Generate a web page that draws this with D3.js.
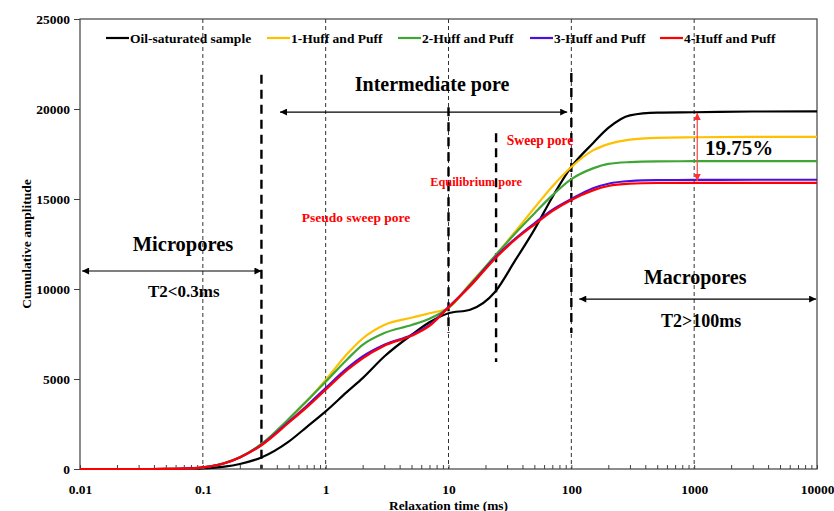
<!DOCTYPE html>
<html>
<head>
<meta charset="utf-8">
<script src="https://cdn.jsdelivr.net/npm/d3@7"></script>
<style>
  html, body { margin: 0; padding: 0; background: #fff; }
  svg { display: block; font-family: "Liberation Serif", "Times New Roman", serif; font-weight: bold; }
</style>
</head>
<body>
<svg id="chart" width="834" height="511"></svg>
<script>
/* ——— data ——————————————— */
const relaxTimes = [0.01, 0.03, 0.05, 0.07, 0.1, 0.15, 0.2, 0.3, 0.5, 0.7, 1, 1.5, 2, 3, 5, 7,
                    10, 15, 24, 35, 50, 70, 100, 150, 200, 300, 500, 1000, 3000, 10000];

const oilSaturated = [0, 0, 0, 5, 30, 130, 280, 640, 1520, 2330, 3200, 4300, 5050, 6250, 7450, 8150,
                      8650, 8850, 9850, 11600, 13300, 15100, 16780, 18100, 18950, 19650, 19800, 19820, 19860, 19870];
const huff1 = [0, 0, 3, 20, 90, 330, 650, 1380, 2750, 3750, 4950, 6400, 7250, 8000, 8400, 8650,
               8950, 10300, 11850, 13200, 14500, 15700, 16780, 17700, 18050, 18300, 18400, 18430, 18450, 18450];
const huff2 = [0, 0, 3, 20, 90, 330, 650, 1390, 2780, 3780, 4850, 6100, 6900, 7550, 8000, 8350,
               8950, 10250, 11850, 13100, 14200, 15200, 16100, 16700, 16950, 17050, 17090, 17100, 17100, 17100];
const huff3 = [0, 0, 3, 20, 90, 320, 640, 1340, 2620, 3500, 4500, 5600, 6250, 6900, 7450, 8000,
               9000, 10200, 11750, 12800, 13650, 14400, 15000, 15600, 15850, 16000, 16050, 16060, 16070, 16070];
const huff4 = [0, 0, 3, 20, 90, 320, 640, 1320, 2570, 3420, 4400, 5500, 6150, 6850, 7400, 7950,
               8970, 10150, 11700, 12750, 13580, 14330, 14950, 15480, 15720, 15850, 15890, 15900, 15900, 15900];

const seriesNames  = ["Oil-saturated sample", "1-Huff and Puff", "2-Huff and Puff", "3-Huff and Puff", "4-Huff and Puff"];
const seriesValues = [oilSaturated, huff1, huff2, huff3, huff4];
const seriesColors = ["#000000", "#ffc000", "#3fa535", "#4a10e0", "#ff0000"];

const xTickValues = [0.01, 0.1, 1, 10, 100, 1000, 10000];
const yTickValues = [0, 5000, 10000, 15000, 20000, 25000];
const gridTimes   = [0.1, 1, 10, 100, 1000];

// thick dashed separators: [time, from, to] in amplitude units
const separators = [[0.3, 0, 21900], [10, 7560, 20100], [24.4, 5940, 18650], [100, 7560, 22000]];

/* ——— layout ——————————————————————————————————————— */
const width = 834, height = 511;
const margin = {top: 19, right: 17, bottom: 42, left: 80};

const svg = d3.select("#chart");

const x = d3.scaleLog([0.01, 10000], [margin.left, width - margin.right]);
const y = d3.scaleLinear([0, 25000], [height - margin.bottom, margin.top]);

/* ——— markers ——————————————————————————————————————— */
const defs = svg.append("defs");
function arrowMarker(id, colour){
  defs.append("marker")
      .attr("id", id)
      .attr("viewBox", "0 0 10 10")
      .attr("refX", 10).attr("refY", 5)
      .attr("markerWidth", 9).attr("markerHeight", 7)
      .attr("markerUnits", "userSpaceOnUse")
      .attr("orient", "auto-start-reverse")
    .append("path")
      .attr("d", "M0,0L10,5L0,10z")
      .attr("fill", colour);
}
arrowMarker("arrow-k", "#000");
arrowMarker("arrow-r", "#ff3030");

/* ——— grid (thin dashed) ————————————————————————————— */
svg.append("g")
  .selectAll("line").data(gridTimes).join("line")
    .attr("x1", d => x(d)).attr("x2", d => x(d))
    .attr("y1", y(25000)).attr("y2", y(0))
    .attr("stroke", "#333").attr("stroke-width", 1)
    .attr("stroke-dasharray", "4,3");

/* ——— thick dashed separators ———————————————————————— */
svg.append("g")
  .selectAll("line").data(separators).join("line")
    .attr("x1", d => x(d[0])).attr("x2", d => x(d[0]))
    .attr("y1", d => y(d[2])).attr("y2", d => y(d[1]))
    .attr("stroke", "#000").attr("stroke-width", 2.4)
    .attr("stroke-dasharray", "9,6");

/* ——— axes ——————————————————————————————————————————— */
const axisColour = "#404040";

const yAxis = svg.append("g")
  .attr("transform", `translate(${margin.left},0)`)
  .call(d3.axisLeft(y).tickValues(yTickValues).tickSize(6).tickPadding(4).tickFormat(d3.format("d")));

const xMinor = svg.append("g")
  .attr("transform", `translate(0,${y(0)})`)
  .call(d3.axisBottom(x).ticks(10).tickSize(-4).tickFormat(""));

const xAxis = svg.append("g")
  .attr("transform", `translate(0,${y(0)})`)
  .call(d3.axisBottom(x).tickValues(xTickValues).tickSize(0).tickPadding(15).tickFormat(d => String(d)));

[yAxis, xMinor, xAxis].forEach(g => {
  g.select(".domain").remove();
  g.selectAll("line").attr("stroke", axisColour);
  g.selectAll("text")
    .attr("font-family", "Liberation Serif, Times New Roman, serif")
    .attr("font-weight", "bold")
    .attr("font-size", 13.5)
    .attr("fill", "#000");
});

svg.append("rect")
  .attr("x", margin.left).attr("y", margin.top)
  .attr("width", x.range()[1] - x.range()[0])
  .attr("height", y(0) - y(25000))
  .attr("fill", "none")
  .attr("stroke", axisColour).attr("stroke-width", 1.2);

svg.append("text")
  .attr("transform", `translate(31,${(y(0) + y(25000)) / 2}) rotate(-90)`)
  .attr("text-anchor", "middle")
  .attr("font-size", 13.5)
  .text("Cumulative amplitude");

svg.append("text")
  .attr("x", (x.range()[0] + x.range()[1]) / 2)
  .attr("y", 509.5)
  .attr("text-anchor", "middle")
  .attr("font-size", 13.4)
  .text("Relaxation time (ms)");

/* ——— curves —————————————————————————————————————————— */
const line = d3.line()
  .x(d => x(d[0]))
  .y(d => y(d[1]))
  .curve(d3.curveMonotoneX);

svg.append("g")
  .selectAll("path").data(seriesValues).join("path")
    .attr("d", vals => line(relaxTimes.map((t, i) => [t, vals[i]])))
    .attr("fill", "none")
    .attr("stroke", (d, i) => seriesColors[i])
    .attr("stroke-width", 2.2);

/* ——— legend ————————————————————————————————————————— */
const legendX = [106, 267, 398, 530, 660];
const legend = svg.append("g")
  .selectAll("g").data(seriesNames).join("g")
    .attr("transform", (d, i) => `translate(${legendX[i]},38)`);
legend.append("line")
  .attr("x1", 0).attr("x2", 23)
  .attr("stroke", (d, i) => seriesColors[i]).attr("stroke-width", 2.2);
legend.append("text")
  .attr("x", 24).attr("dy", "0.35em")
  .attr("font-size", 13.5)
  .text(d => d);

/* ——— annotations ————————————————————————————————————— */
function hArrow(t0, t1, v, colour = "k"){
  svg.append("line")
    .attr("x1", x(t0)).attr("x2", x(t1))
    .attr("y1", y(v)).attr("y2", y(v))
    .attr("stroke", "#000").attr("stroke-width", 1.2)
    .attr("marker-start", `url(#arrow-${colour})`)
    .attr("marker-end", `url(#arrow-${colour})`);
}
function label(t, v, txt, size, fill = "#000"){
  svg.append("text")
    .attr("x", x(t)).attr("y", y(v))
    .attr("text-anchor", "middle")
    .attr("font-size", size)
    .attr("fill", fill)
    .text(txt);
}

hArrow(0.425, 92.5, 19830);
hArrow(0.0104, 0.3, 11000);
hArrow(116, 9840, 9440);

label(7.35, 21000, "Intermediate pore", 20);
label(0.069, 12100, "Micropores", 20.5);
label(0.07, 9550, "T2<0.3ms", 17);
label(1019, 10280, "Macropores", 20);
label(1140, 7880, "T2>100ms", 18);

// red percentage arrow
svg.append("line")
  .attr("x1", x(1060)).attr("x2", x(1060))
  .attr("y1", y(19780)).attr("y2", y(16000))
  .attr("stroke", "#ff5050").attr("stroke-width", 1.3)
  .attr("marker-start", "url(#arrow-r)")
  .attr("marker-end", "url(#arrow-r)");
svg.append("text")
  .attr("x", 705).attr("y", y(17440))
  .attr("font-size", 21)
  .text("19.75%");

label(1.77, 13700, "Pseudo sweep pore", 13.5, "#ff0000");
label(16.8, 15700, "Equilibrium pore", 12.3, "#ff0000");
label(55.7, 18000, "Sweep pore", 13.6, "#ff0000");
</script>
</body>
</html>
